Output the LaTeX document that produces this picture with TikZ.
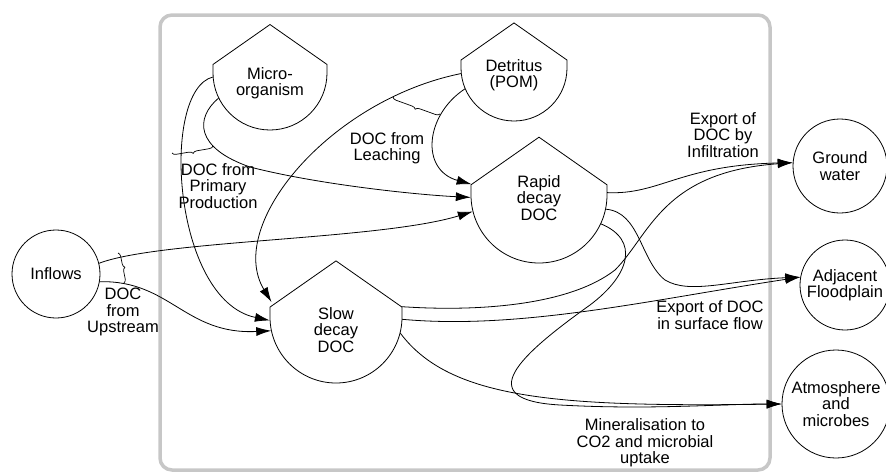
\documentclass[tikz,border=0pt]{standalone}
\usepackage{fontspec}
\setmainfont{Liberation Sans}
\usetikzlibrary{calc, arrows.meta, decorations.pathreplacing}

\newcommand{\txt}{\fontsize{16.5}{16.5}\selectfont}
% pool with a roof: name, centre, radius, text offset, text
\newcommand{\pool}[5]{%
  \draw[poolline] ($(#2)+(-#3,-0.15*#3)$) -- ($(#2)+(0,-0.85*#3)$) -- ($(#2)+(#3,-0.15*#3)$)
    -- ($(#2)+(#3,0)$) arc[start angle=0, end angle=-180, radius=#3pt] -- cycle;
  \node[pool, minimum size=2*#3pt] (#1) at (#2) {};
  \node[poollabel] (#1-text) at ($(#2)+(0,#4)$) {#5};
}

\begin{document}
\begin{tikzpicture}[x=1pt, y=-1pt,
    pool/.style={circle, inner sep=0pt},
    poolline/.style={draw, fill=white, line width=0.8pt},
    poollabel/.style={align=center, font=\txt},
    sink/.style={circle, draw, fill=white, line width=0.8pt, inner sep=0pt, align=center, font=\txt},
    flow/.style={-{Latex[length=15pt, width=9pt]}, line width=0.8pt},
    flowlabel/.style={align=center, font=\txt},
    bracket/.style={decorate, decoration={brace, amplitude=4pt}, line width=0.7pt},
    frame/.style={draw=black!22, line width=3.5pt, rounded corners=12pt}
  ]
  \useasboundingbox (0,0) rectangle (886,474);
  \draw[frame] (160,15) rectangle (770,470);

  % Pools
  \pool{micro}{270,73}{57}{10}{Micro-\\organism}
  \pool{detritus}{514,68}{53}{7}{Detritus\\(POM)}
  \pool{rapid}{539,195}{68}{3}{Rapid\\decay\\DOC}
  \pool{slow}{336,317}{66}{13}{Slow\\decay\\DOC}

  % Sources and sinks
  \node[sink, minimum size=88pt] (inflows) at (56,274) {Inflows};
  \node[sink, minimum size=94pt] (ground) at (840,166) {Ground\\water};
  \node[sink, minimum size=90pt] (adjacent) at (845,285) {Adjacent\\Floodplain};
  \node[sink, minimum size=108pt] (atmos) at (836,404) {Atmosphere\\and\\microbes};

  % Into slow decay
  \draw[flow] (micro.184) .. controls (160,90) and (172,300) .. (slow.183);
  \draw[flow] (detritus.186) .. controls (330,100) and (225,225) .. (slow.167);
  \draw[flow] (inflows.-10) .. controls (170,280) and (185,335) .. (slow.192);

  % Into rapid decay
  \draw[flow] (micro.206) .. controls (195,118) and (195,148) .. (250,167)
    .. controls (320,185) and (420,195) .. (rapid.182);
  \draw[flow] (detritus.203) .. controls (425,115) and (420,170) .. (rapid.171);
  \draw[flow] (inflows.14) .. controls (160,240) and (380,240) .. (rapid.194);

  % Out of rapid decay
  \draw[flow] (rapid.2) .. controls (660,195) and (680,165) .. (ground.176);
  \draw[flow] (rapid.-12) .. controls (640,212) and (640,260) .. (665,280)
    .. controls (690,295) and (730,280) .. (adjacent.170);
  \draw[flow] (rapid.-25) .. controls (640,240) and (630,275) .. (590,305)
    .. controls (520,355) and (470,400) .. (560,405)
    .. controls (650,410) and (720,404) .. (atmos.180);

  % Out of slow decay
  \draw[flow] (slow.9) .. controls (480,312) and (570,305) .. (615,270)
    .. controls (650,235) and (662,172) .. (ground.176);
  \draw[flow] (slow.-2) .. controls (520,330) and (650,300) .. (adjacent.170);
  \draw[flow] (slow.-14) .. controls (450,400) and (560,407) .. (atmos.180);

  % Braces
  \draw[bracket] (213,146) -- (172,153);
  \draw[bracket] (440,114) -- (393,97);
  \draw[bracket] (118,253) -- (124,283);

  % Flow labels
  \node[flowlabel] (primtext) at (218,186) {DOC from\\Primary\\Production};
  \node[flowlabel] (leachtext) at (387,148) {DOC from\\Leaching};
  \node[flowlabel] (upstreamtext) at (123,312) {DOC\\from\\Upstream};
  \node[flowlabel] (infiltext) at (723,135) {Export of\\DOC by\\Infiltration};
  \node[flowlabel] (surfacetext) at (710,315) {Export of DOC\\in surface flow};
  \node[flowlabel] (mineraltext) at (645,443) {Mineralisation to\\CO2 and microbial\\uptake};
\end{tikzpicture}
\end{document}
